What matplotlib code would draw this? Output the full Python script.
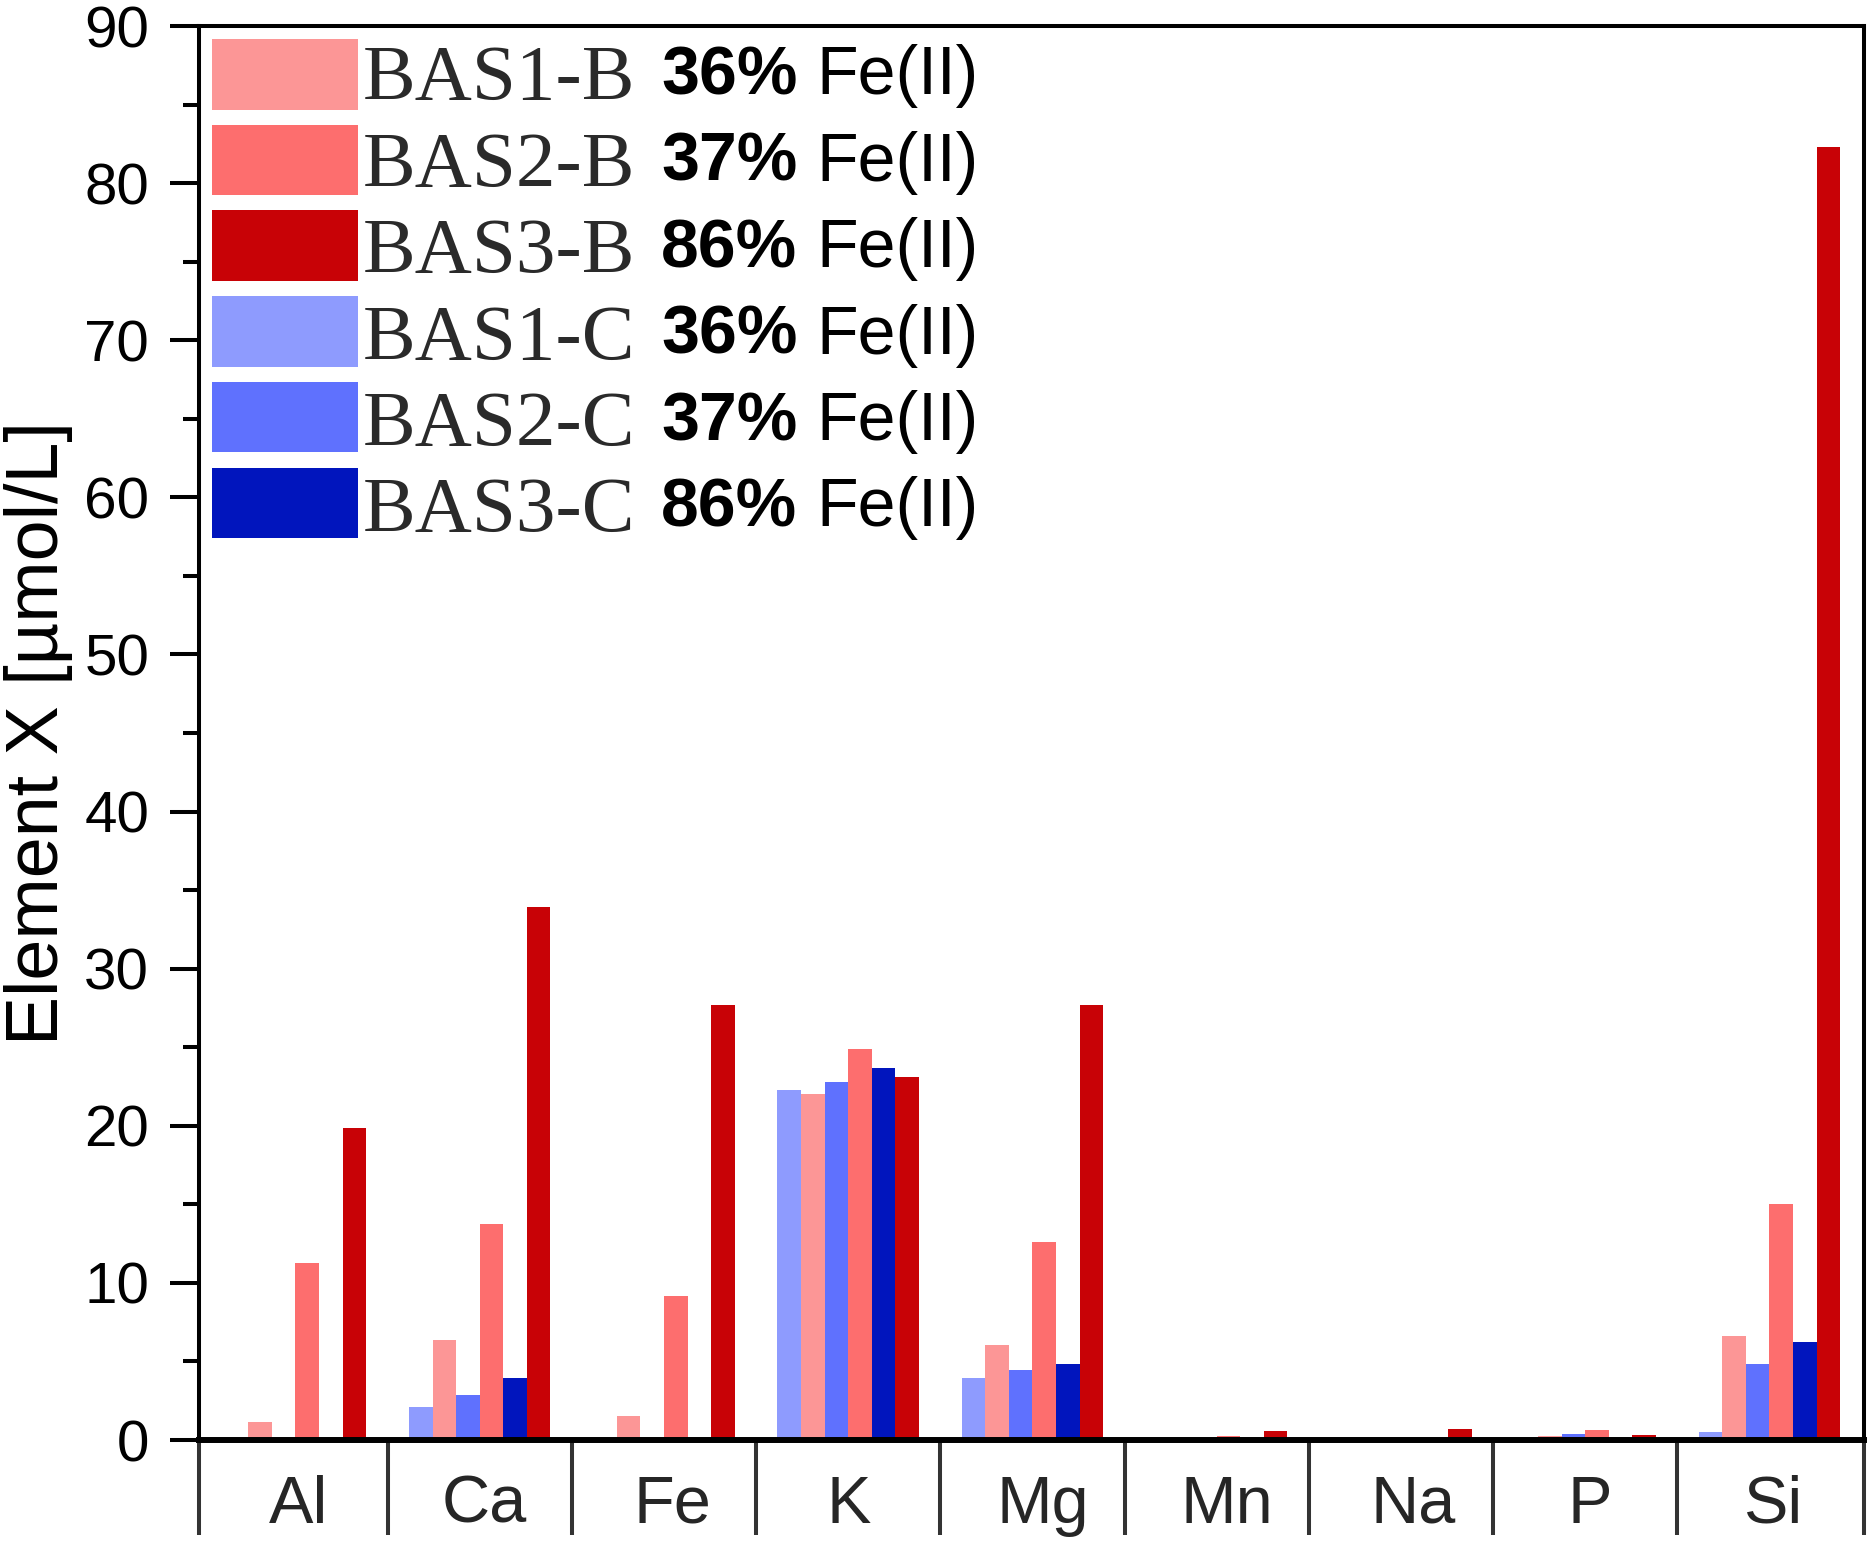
import matplotlib
matplotlib.use('Agg')
import matplotlib.pyplot as plt
from matplotlib.patches import Rectangle
from matplotlib.transforms import ScaledTranslation
import numpy as np

# ---------------- data ----------------
elements = ['Al', 'Ca', 'Fe', 'K', 'Mg', 'Mn', 'Na', 'P', 'Si']
series_order = ['BAS1-C', 'BAS1-B', 'BAS2-C', 'BAS2-B', 'BAS3-C', 'BAS3-B']
bas1_c = [0.0, 2.07, 0.0, 22.26, 3.95, 0.0, 0.0, 0.0, 0.5]
bas1_b = [1.13, 6.34, 1.53, 22.05, 6.05, 0.0, 0.0, 0.25, 6.65]
bas2_c = [0.0, 2.88, 0.0, 22.77, 4.46, 0.0, 0.0, 0.4, 4.84]
bas2_b = [11.25, 13.75, 9.17, 24.87, 12.62, 0.25, 0.0, 0.65, 15.0]
bas3_c = [0.0, 3.92, 0.0, 23.68, 4.86, 0.0, 0.0, 0.0, 6.26]
bas3_b = [19.86, 33.93, 27.67, 23.09, 27.67, 0.55, 0.7, 0.3, 82.3]

legend_names = ['BAS1-B', 'BAS2-B', 'BAS3-B', 'BAS1-C', 'BAS2-C', 'BAS3-C']
legend_pct = ['36%', '37%', '86%', '36%', '37%', '86%']
legend_suffix = 'Fe(II)'

colors = {
    'BAS1-B': '#FC9696',
    'BAS2-B': '#FD6E6E',
    'BAS3-B': '#C80206',
    'BAS1-C': '#8E9BFE',
    'BAS2-C': '#5F71FE',
    'BAS3-C': '#0115BD',
}

yticks = list(range(0, 91, 10))
yminor = list(range(5, 90, 10))

# small horizontal nudges of the category labels (pixels), as in the original
label_nudge_px = [3, 5, 8, 0, 10, 10, 12, 5, 3]

# ---------------- figure ----------------
plt.rcParams['font.family'] = ['Liberation Sans', 'DejaVu Sans']
W, H = 1870, 1542
fig = plt.figure(figsize=(W / 100, H / 100), dpi=100)
ax = fig.add_axes([199 / W, 1 - 1440 / H, (1864 - 199) / W, (1440 - 26) / H])

x = np.arange(len(elements))
bw = 0.128
series = [bas1_c, bas1_b, bas2_c, bas2_b, bas3_c, bas3_b]
for i, (name, vals) in enumerate(zip(series_order, series)):
    ax.bar(x + (i - 2.5) * bw, vals, width=bw, color=colors[name],
           linewidth=0, label=name, zorder=1)

x0, x1 = -0.5237, 8.513
ax.set_xlim(x0, x1)
ax.set_ylim(0, 90)

ax.set_yticks(yticks)
ax.set_yticks(yminor, minor=True)
ax.tick_params(axis='y', which='major', direction='out', length=20.9,
               width=2.9, pad=15.0, labelsize=42, color='black', labelcolor='black')
ax.tick_params(axis='y', which='minor', direction='out', length=11.5,
               width=2.9, color='black')

bounds = [x0] + [i + 0.5 for i in range(len(elements) - 1)] + [x1]
ax.set_xticks(bounds)
ax.set_xticklabels([''] * len(bounds))
ax.set_xticks(x, labels=elements, minor=True)
ax.tick_params(axis='x', which='major', direction='out', length=68.4,
               width=2.9, color='#333333')
ax.tick_params(axis='x', which='minor', length=0, pad=25, labelsize=48,
               labelcolor='#262626')

for lab, dpx in zip(ax.xaxis.get_minorticklabels(), label_nudge_px):
    lab.set_transform(lab.get_transform() +
                      ScaledTranslation(dpx / 100, 0, fig.dpi_scale_trans))

for s in ['left', 'right', 'top']:
    ax.spines[s].set_linewidth(2.9)
    ax.spines[s].set_color('black')
ax.spines['bottom'].set_linewidth(4.3)
ax.spines['bottom'].set_color('black')

ax.set_ylabel('Element X [µmol/L]', fontsize=53)
ax.yaxis.set_label_coords(-0.0757, 0.5)

# ---------------- legend (manual, mixed fonts) ----------------
def fx(px):
    return px / W

def fy(py):
    return 1 - py / H

for k, (name, pct) in enumerate(zip(legend_names, legend_pct)):
    top = 39 + k * 85.7
    rect = Rectangle((fx(212), fy(top + 70.5)), fx(358) - fx(212), 70.5 / H,
                     transform=fig.transFigure, facecolor=colors[name],
                     edgecolor='none', clip_on=False)
    fig.add_artist(rect)
    base_serif = 99.3 + k * 86.4
    base_sans = 94.5 + k * 86.4
    fig.text(fx(363), fy(base_serif), name, family=['Liberation Serif', 'DejaVu Serif'],
             fontsize=57, color='#2a2a2a', ha='left', va='baseline')
    fig.text(fx(661), fy(base_sans), pct, fontsize=49, fontweight='bold',
             color='black', ha='left', va='baseline')
    fig.text(fx(816), fy(base_sans), legend_suffix, fontsize=49,
             color='black', ha='left', va='baseline')

fig.savefig('out.png', dpi=100, facecolor='white')
